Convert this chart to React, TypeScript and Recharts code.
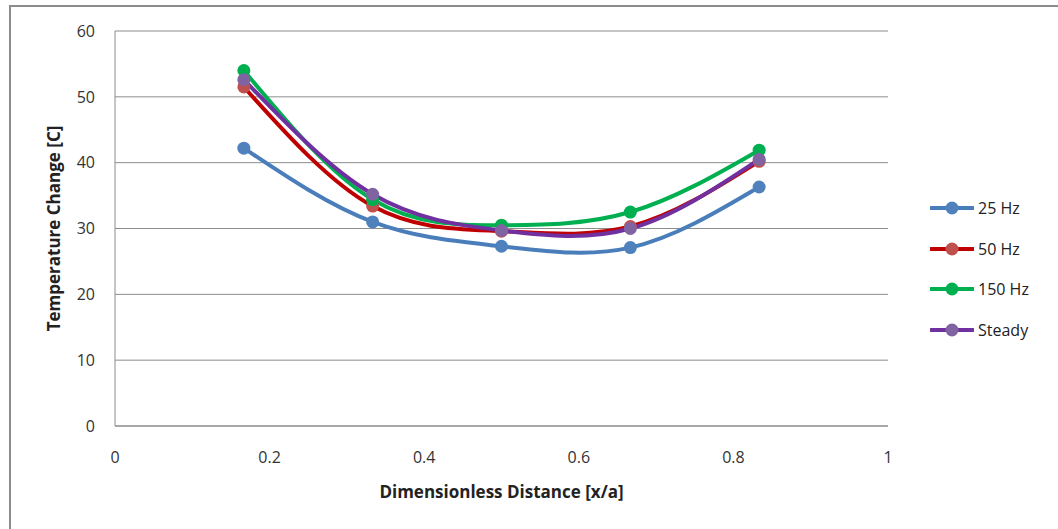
import { LineChart, Line, XAxis, YAxis, CartesianGrid, Legend } from "recharts"

const xPositions = [0.1667, 0.3333, 0.5, 0.6667, 0.8333]
const hz25 = [42.2, 31.0, 27.3, 27.1, 36.3]
const hz50 = [51.5, 33.4, 29.6, 30.3, 40.2]
const hz150 = [54.0, 34.4, 30.5, 32.5, 41.9]
const steady = [52.6, 35.2, 29.7, 30.0, 40.5]
const xTicks = [0, 0.2, 0.4, 0.6, 0.8, 1]
const yTicks = [0, 10, 20, 30, 40, 50, 60]

const data = xPositions.map((x, i) => ({
  x,
  hz25: hz25[i],
  hz50: hz50[i],
  hz150: hz150[i],
  steady: steady[i],
}))

const font = "'Open Sans', 'Noto Sans', sans-serif"

const series = [
  { key: "hz25", name: "25 Hz", line: "#4A7EBB", dot: "#4F81BD" },
  { key: "hz50", name: "50 Hz", line: "#C00000", dot: "#C0504D" },
  { key: "hz150", name: "150 Hz", line: "#00B050", dot: "#00B050" },
  { key: "steady", name: "Steady", line: "#7030A0", dot: "#8064A2" },
]

//custom legend so the marker sits in the middle of the line
function LegendList() {
  return (
    <div style={{ fontFamily: font, fontSize: 16, color: "#222" }}>
      {series.map((s) => (
        <div key={s.key} style={{ display: "flex", alignItems: "center", height: 40.5 }}>
          <svg width={44} height={14}>
            <line x1={1} y1={7} x2={43} y2={7} stroke={s.line} strokeWidth={4} strokeLinecap="round" />
            <circle cx={22} cy={7} r={6.5} fill={s.dot} />
          </svg>
          <span style={{ marginLeft: 4 }}>{s.name}</span>
        </div>
      ))}
    </div>
  )
}

export default function App() {
  return (
    <div style={{ position: "absolute", left: 0, top: 0, width: 1058, height: 529, background: "#fff", overflow: "hidden" }}>
      <div
        style={{
          position: "absolute",
          left: 9,
          top: 5,
          width: 1100,
          height: 600,
          borderTop: "2px solid #8c8c8c",
          borderLeft: "2px solid #8c8c8c",
        }}
      />
      <LineChart
        width={1058}
        height={529}
        data={data}
        margin={{ top: 31, right: 50, bottom: 0, left: 35 }}
        style={{ position: "absolute", left: 0, top: 0 }}
      >
        <CartesianGrid vertical={false} stroke="#8c8c8c" strokeWidth={1} />
        <XAxis
          dataKey="x"
          type="number"
          domain={[0, 1]}
          ticks={xTicks}
          tickFormatter={(v) => String(v)}
          height={103}
          tickLine={false}
          tickSize={0}
          tickMargin={26}
          stroke="#8c8c8c"
          tick={{ fill: "#333", fontSize: 16, fontFamily: font }}
          label={{
            value: "Dimensionless Distance [x/a]",
            position: "insideTop",
            offset: 60,
            style: { fill: "#222", fontSize: 17, fontWeight: "bold", fontFamily: font },
          }}
        />
        <YAxis
          type="number"
          domain={[0, 60]}
          ticks={yTicks}
          width={80}
          tickLine={false}
          tickSize={0}
          tickMargin={20}
          stroke="#8c8c8c"
          tick={{ fill: "#333", fontSize: 16, fontFamily: font }}
          label={{
            value: "Temperature Change [C]",
            angle: -90,
            position: "insideLeft",
            offset: 19,
            style: { fill: "#222", fontSize: 17, fontWeight: "bold", fontFamily: font, textAnchor: "middle" },
          }}
        />
        <Legend
          layout="vertical"
          align="right"
          verticalAlign="top"
          wrapperStyle={{ top: 188, right: 8, width: 120 }}
          content={() => <LegendList />}
        />
        {series.map((s) => (
          <Line
            key={s.key}
            type="natural"
            dataKey={s.key}
            name={s.name}
            stroke={s.line}
            strokeWidth={4}
            dot={{ r: 6.5, fill: s.dot, stroke: s.dot, strokeWidth: 0 }}
            activeDot={false}
            isAnimationActive={false}
          />
        ))}
      </LineChart>
    </div>
  )
}
